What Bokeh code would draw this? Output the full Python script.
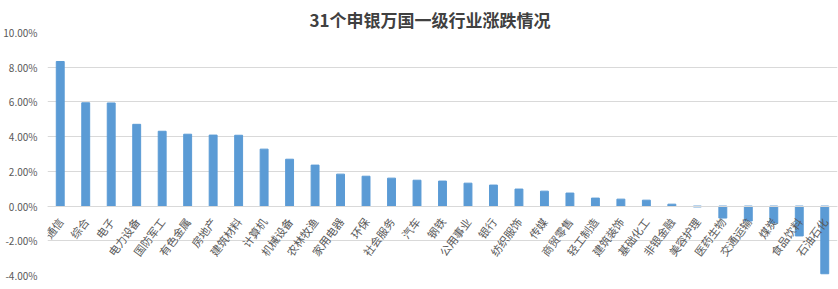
from bokeh.plotting import figure
from bokeh.models import FactorRange, Range1d, PrintfTickFormatter, FixedTicker, ColumnDataSource
from bokeh.embed import file_html
from bokeh.resources import INLINE

categories = ["通信", "综合", "电子", "电力设备", "国防军工", "有色金属", "房地产", "建筑材料",
              "计算机", "机械设备", "农林牧渔", "家用电器", "环保", "社会服务", "汽车", "钢铁",
              "公用事业", "银行", "纺织服饰", "传媒", "商贸零售", "轻工制造", "建筑装饰", "基础化工",
              "非银金融", "美容护理", "医药生物", "交通运输", "煤炭", "食品饮料", "石油石化"]
values = [8.33, 5.95, 5.94, 4.71, 4.31, 4.14, 4.09, 4.08,
          3.28, 2.70, 2.36, 1.84, 1.72, 1.61, 1.49, 1.44,
          1.32, 1.21, 0.98, 0.86, 0.75, 0.46, 0.40, 0.34,
          0.11, -0.05, -0.69, -0.86, -0.98, -1.72, -3.90]
y_ticks = [-4, -2, 0, 2, 4, 6, 8, 10]
title_text = "31个申银万国一级行业涨跌情况"

FONT = "Noto Sans CJK SC"

src = ColumnDataSource(dict(cat=categories, val=values))

p = figure(width=838, height=289, output_backend="svg", toolbar_location=None,
           x_range=FactorRange(factors=categories, range_padding=0),
           y_range=Range1d(-4, 10), title=title_text,
           min_border_left=43, min_border_right=1, min_border_top=32, min_border_bottom=14)

p.vbar(x="cat", top="val", bottom=0, width=0.31, color="#5b9bd5", source=src)

p.title.align = "left"
p.title.text_font = FONT
p.title.text_font_size = "17px"
p.title.text_font_style = "bold"
p.title.text_color = "#404040"
p.title.offset = 262
p.title.standoff = 2

p.outline_line_color = None
p.background_fill_color = "white"
p.border_fill_color = "white"

p.xgrid.grid_line_color = None
p.ygrid.grid_line_color = "#d9d9d9"
p.ygrid.ticker = FixedTicker(ticks=y_ticks)

p.yaxis.ticker = FixedTicker(ticks=y_ticks)
p.yaxis.formatter = PrintfTickFormatter(format="%.2f%%")
p.yaxis.axis_line_color = None
p.yaxis.major_tick_line_color = None
p.yaxis.minor_tick_line_color = None
p.yaxis.major_label_text_font = FONT
p.yaxis.major_label_text_font_size = "10px"
p.yaxis.major_label_text_color = "#595959"
p.yaxis.major_label_standoff = 4

p.xaxis.fixed_location = 0
p.xaxis.axis_line_color = "#d9d9d9"
p.xaxis.major_tick_line_color = None
p.xaxis.minor_tick_line_color = None
p.xaxis.major_label_orientation = 0.93
p.xaxis.major_label_text_font = FONT
p.xaxis.major_label_text_font_size = "11px"
p.xaxis.major_label_text_color = "#595959"
p.xaxis.major_label_standoff = 7

open("out.html", "w").write(file_html(p, INLINE))
